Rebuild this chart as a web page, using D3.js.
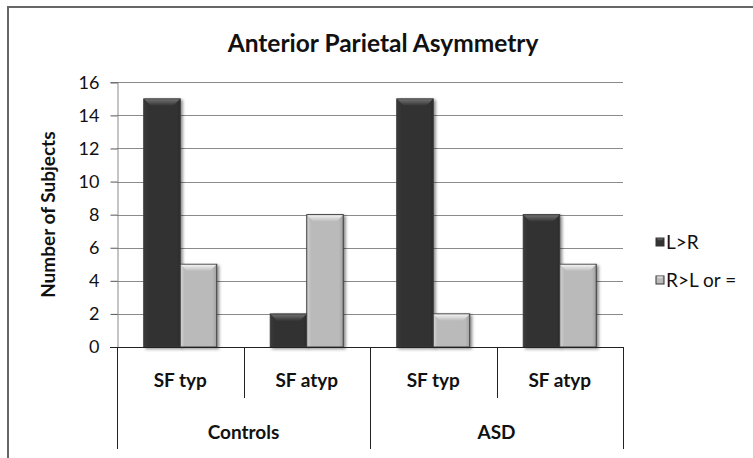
<!DOCTYPE html>
<html lang="en">
<head>
    <meta charset="UTF-8">
    <title>Anterior Parietal Asymmetry</title>
    <script src="https://d3js.org/d3.v7.min.js"></script>
    <style>
        body { margin: 0; background: #fff; }
        text { font-family: Lato, "Open Sans", sans-serif; fill: #111; }
        .grid line { stroke: #8a8a8a; stroke-width: 1; }
        .frame { stroke: #666; stroke-width: 2; fill: none; }
        .div { stroke: #222; stroke-width: 1; }
    </style>
</head>
<body>
<svg width="753" height="458"></svg>

<script>
    // data
    const groups = ["Controls", "ASD"];
    const subgroups = ["SF typ", "SF atyp"];
    const series = ["L>R", "R>L or ="];
    const valuesLR = [15, 2, 15, 8];
    const valuesRL = [5, 8, 2, 5];
    const yTicks = [0, 2, 4, 6, 8, 10, 12, 14, 16];

    const colors = { "L>R": "#333333", "R>L or =": "#bababa" };
    const bevelTop = { "L>R": "#707070", "R>L or =": "#f2f2f2" };

    const categories = [];
    groups.forEach(g => subgroups.forEach(s => categories.push(g + "|" + s)));
    const rows = categories.map((c, i) => ({ key: c, sub: c.split("|")[1], vals: [valuesLR[i], valuesRL[i]] }));

    const svg = d3.select("svg");
    const plotLeft = 117, plotRight = 623, plotTop = 82.3, plotBottom = 347;

    const defs = svg.append("defs");
    const f = defs.append("filter").attr("id", "shadow").attr("x", "-20%").attr("y", "-20%").attr("width", "150%").attr("height", "150%");
    f.append("feDropShadow").attr("dx", 2).attr("dy", 1.5).attr("stdDeviation", 1.8).attr("flood-color", "#000").attr("flood-opacity", 0.45);

    Object.keys(colors).forEach((k, i) => {
        const g = defs.append("linearGradient").attr("id", "bev" + i).attr("x1", 0).attr("y1", 0).attr("x2", 0).attr("y2", 1);
        g.append("stop").attr("offset", "0%").attr("stop-color", bevelTop[k]);
        g.append("stop").attr("offset", "100%").attr("stop-color", colors[k]);
        const s = defs.append("linearGradient").attr("id", "side" + i).attr("x1", 0).attr("y1", 0).attr("x2", 1).attr("y2", 0);
        s.append("stop").attr("offset", "0%").attr("stop-color", d3.color(colors[k]).brighter(0.35));
        s.append("stop").attr("offset", "12%").attr("stop-color", colors[k]);
        s.append("stop").attr("offset", "88%").attr("stop-color", colors[k]);
        s.append("stop").attr("offset", "100%").attr("stop-color", d3.color(colors[k]).darker(0.4));
    });

    // frame (only top and left edges are visible)
    svg.append("line").attr("class", "frame").attr("x1", 8).attr("y1", 7).attr("x2", 753).attr("y2", 7);
    svg.append("line").attr("class", "frame").attr("x1", 8).attr("y1", 6).attr("x2", 8).attr("y2", 458);

    const y = d3.scaleLinear().domain([0, 16]).range([plotBottom, plotTop]);
    const x0 = d3.scaleBand().domain(categories).range([plotLeft, plotRight]).padding(0);
    const x1 = d3.scaleBand().domain(series).range([0, x0.bandwidth()]).paddingInner(0).paddingOuter(0.733);

    // gridlines
    svg.append("g").attr("class", "grid")
        .selectAll("line").data(yTicks.filter(d => d > 0)).join("line")
        .attr("x1", plotLeft).attr("x2", plotRight)
        .attr("y1", d => Math.round(y(d)) + 0.5).attr("y2", d => Math.round(y(d)) + 0.5);

    // y axis
    const yAxis = svg.append("g").attr("transform", `translate(${plotLeft + 0.5},0)`)
        .call(d3.axisLeft(y).tickValues(yTicks).tickSize(7).tickPadding(11));
    yAxis.select(".domain").attr("stroke", "#8a8a8a");
    yAxis.selectAll(".tick line").attr("stroke", "#555");
    yAxis.selectAll(".tick text").attr("font-size", 18).attr("font-family", "Lato").attr("fill", "#111");

    svg.append("text")
        .attr("transform", `translate(55,${(plotTop + plotBottom) / 2}) rotate(-90)`)
        .attr("text-anchor", "middle")
        .attr("font-size", 19).attr("font-weight", "bold")
        .text("Number of Subjects");

    // title
    svg.append("text")
        .attr("x", 383).attr("y", 52)
        .attr("text-anchor", "middle")
        .attr("font-size", 24.5).attr("font-weight", "bold")
        .text("Anterior Parietal Asymmetry");

    // bars
    const bev = 7;
    const catG = svg.append("g").selectAll("g").data(rows).join("g")
        .attr("transform", d => `translate(${x0(d.key)},0)`);
    const bars = catG.selectAll("g").data(d => d.vals.map((v, i) => ({ s: series[i], v: v, i: i }))).join("g")
        .attr("filter", "url(#shadow)");
    bars.append("rect")
        .attr("x", d => x1(d.s)).attr("width", x1.bandwidth())
        .attr("y", d => y(d.v)).attr("height", d => y(0) - y(d.v))
        .attr("fill", d => `url(#side${d.i})`)
        .attr("stroke", "#3a3a3a").attr("stroke-width", 1);
    bars.append("path")
        .attr("d", d => {
            const xa = x1(d.s), xb = xa + x1.bandwidth(), yt = y(d.v);
            return `M${xa + 0.5},${yt + 0.5}L${xb - 0.5},${yt + 0.5}L${xb - bev},${yt + bev}L${xa + bev},${yt + bev}Z`;
        })
        .attr("fill", d => `url(#bev${d.i})`);

    // x axis: baseline, dividers and two rows of labels
    svg.append("line").attr("class", "div").attr("x1", plotLeft - 7).attr("x2", plotRight).attr("y1", plotBottom + 0.5).attr("y2", plotBottom + 0.5);
    const edges = categories.map(c => x0(c)).concat([plotRight]);
    svg.append("g").selectAll("line").data(edges).join("line").attr("class", "div")
        .attr("x1", d => Math.round(d) + 0.5).attr("x2", d => Math.round(d) + 0.5)
        .attr("y1", plotBottom)
        .attr("y2", (d, i) => i % 2 === 0 ? 449 : 398);

    svg.append("g").selectAll("text").data(rows).join("text")
        .attr("x", d => x0(d.key) + x0.bandwidth() / 2).attr("y", 387)
        .attr("text-anchor", "middle").attr("font-size", 19).attr("font-weight", "bold")
        .text(d => d.sub);

    svg.append("g").selectAll("text").data(groups).join("text")
        .attr("x", (g, i) => x0(categories[i * 2]) + x0.bandwidth())
        .attr("y", 439)
        .attr("text-anchor", "middle").attr("font-size", 19).attr("font-weight", "bold")
        .text(d => d);

    // legend
    const leg = svg.append("g").selectAll("g").data(series).join("g")
        .attr("transform", (d, i) => `translate(656,${238 + i * 38})`);
    leg.append("rect").attr("width", 8).attr("height", 8)
        .attr("fill", (d, i) => `url(#side${i})`).attr("stroke", "#333");
    leg.append("path").attr("d", "M0.5,0.5L7.5,0.5L5,3L3,3Z").attr("fill", (d, i) => `url(#bev${i})`);
    leg.append("text").attr("x", 10).attr("y", 4).attr("dy", "0.36em")
        .attr("font-size", 19).text(d => d);
</script>
</body>
</html>
